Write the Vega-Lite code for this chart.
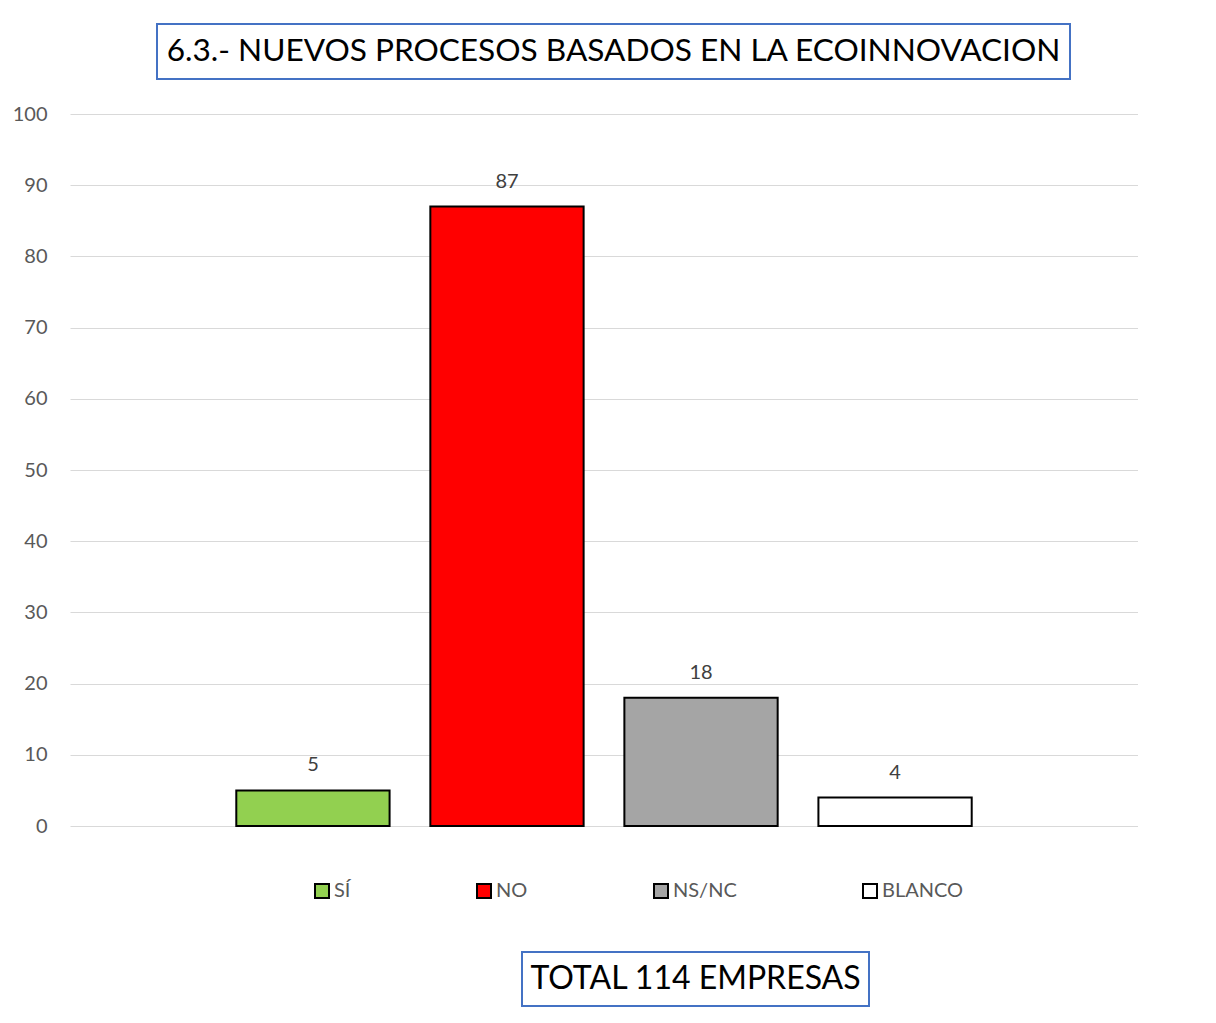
{
  "$schema": "https://vega.github.io/schema/vega-lite/v6.json",
  "padding": {"left": 12, "top": 23, "right": 0, "bottom": 0},
  "background": "white",
  "config": {"font": "Lato", "view": {"stroke": null}},
  "bounds": "full",
  "spacing": 49,
  "resolve": {"legend": {"fill": "independent"}},
  "vconcat": [
    {
      "bounds": "full",
      "spacing": 24,
      "resolve": {"legend": {"fill": "independent"}},
      "vconcat": [
        {
          "bounds": "full",
          "spacing": 0,
          "hconcat": [
            {"width": 86, "height": 55, "data": {"values": []}, "mark": "point"},
            {
              "width": 913,
              "height": 55,
              "view": {"stroke": "#4472C4", "strokeWidth": 2},
              "data": {"values": [{"t": "6.3.- NUEVOS PROCESOS BASADOS EN LA ECOINNOVACION"}]},
              "mark": {"type": "text", "fontSize": 31.6, "color": "black", "baseline": "middle", "align": "center"},
              "encoding": {"text": {"field": "t"}}
            }
          ]
        },
        {
          "width": 1068,
          "height": 712,
          "data": {"values": [
            {"cat": "SÍ", "n": 5},
            {"cat": "NO", "n": 87},
            {"cat": "NS/NC", "n": 18},
            {"cat": "BLANCO", "n": 4}
          ]},
          "encoding": {
            "x": {"field": "cat", "type": "nominal", "sort": ["SÍ", "NO", "NS/NC", "BLANCO"],
                  "scale": {"paddingInner": 0.21, "paddingOuter": 0.857}, "axis": null},
            "y": {"field": "n", "type": "quantitative",
                  "scale": {"domain": [0, 100], "nice": false},
                  "axis": {"title": null, "values": [0,10,20,30,40,50,60,70,80,90,100],
                           "domain": false, "ticks": false, "labelPadding": 23,
                           "labelFontSize": 20, "labelColor": "#595959",
                           "gridColor": "#D9D9D9", "gridWidth": 1}}
          },
          "layer": [
            {
              "mark": {"type": "bar", "stroke": "black", "strokeWidth": 2},
              "encoding": {
                "fill": {"field": "cat", "type": "nominal",
                         "scale": {"domain": ["SÍ", "NO", "NS/NC", "BLANCO"],
                                   "range": ["#92D050", "#FF0000", "#A5A5A5", "#FFFFFF"]},
                         "legend": {"title": null, "orient": "none", "direction": "horizontal",
                                    "legendX": 242, "legendY": 767,
                                    "symbolType": "square", "symbolSize": 196,
                                    "symbolStrokeColor": "black", "symbolStrokeWidth": 2,
                                    "symbolOpacity": 1,
                                    "labelFontSize": 20, "labelColor": "#595959",
                                    "labelOffset": 2, "columnPadding": 122}}
              }
            },
            {
              "mark": {"type": "text", "fontSize": 20, "color": "#404040", "baseline": "alphabetic", "dy": -19},
              "encoding": {"text": {"field": "n", "type": "quantitative"}}
            }
          ]
        }
      ]
    },
    {
      "bounds": "full",
      "spacing": 0,
      "hconcat": [
        {"width": 451, "height": 54, "data": {"values": []}, "mark": "point"},
        {
          "width": 347,
          "height": 54,
          "view": {"stroke": "#4472C4", "strokeWidth": 2},
          "data": {"values": [{"t": "TOTAL 114 EMPRESAS"}]},
          "mark": {"type": "text", "fontSize": 32, "color": "black", "baseline": "middle", "align": "center"},
          "encoding": {"text": {"field": "t"}}
        }
      ]
    }
  ]
}
